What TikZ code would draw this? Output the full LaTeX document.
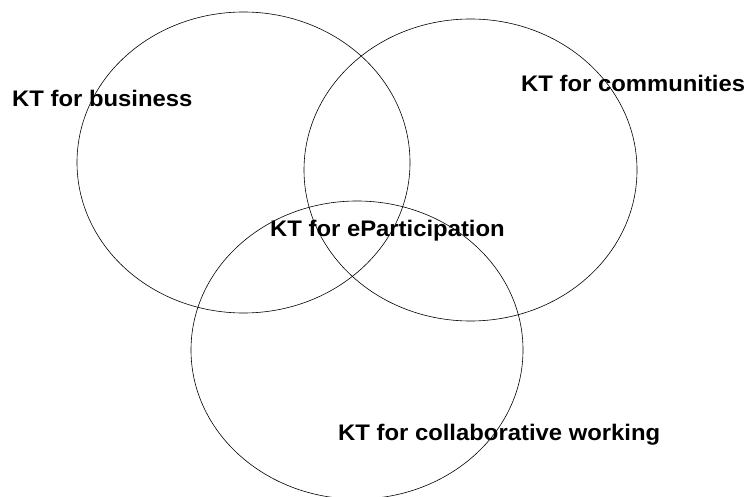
\documentclass[tikz,border=0pt]{standalone}
\usepackage{fontspec}
\setmainfont{Liberation Sans}
\usetikzlibrary{shapes.geometric}
\newcommand{\kttext}[1]{\scalebox{1.06}[1]{#1}}
\begin{document}
\begin{tikzpicture}[x=1pt,y=-1pt,
  set/.style={ellipse,draw,line width=0.6pt,inner sep=0pt},
  lbl/.style={anchor=base west,inner sep=0pt,font=\fontsize{22.5}{27}\selectfont\bfseries}]
\useasboundingbox (0,0) rectangle (746,497);
\node[set,minimum width=333pt,minimum height=301pt] (biz) at (243.5,162.5) {};
\node[set,minimum width=333pt,minimum height=302pt] (com) at (470.5,170) {};
\node[set,minimum width=332pt,minimum height=298pt] (col) at (357,350) {};
\node[lbl] (tbiz) at (12,107) {\kttext{KT for business}};
\node[lbl] (tcom) at (521,92) {\kttext{KT for communities}};
\node[lbl] (tepa) at (270,236) {\kttext{KT for eParticipation}};
\node[lbl] (tcol) at (338,440) {\kttext{KT for collaborative working}};
\end{tikzpicture}
\end{document}
